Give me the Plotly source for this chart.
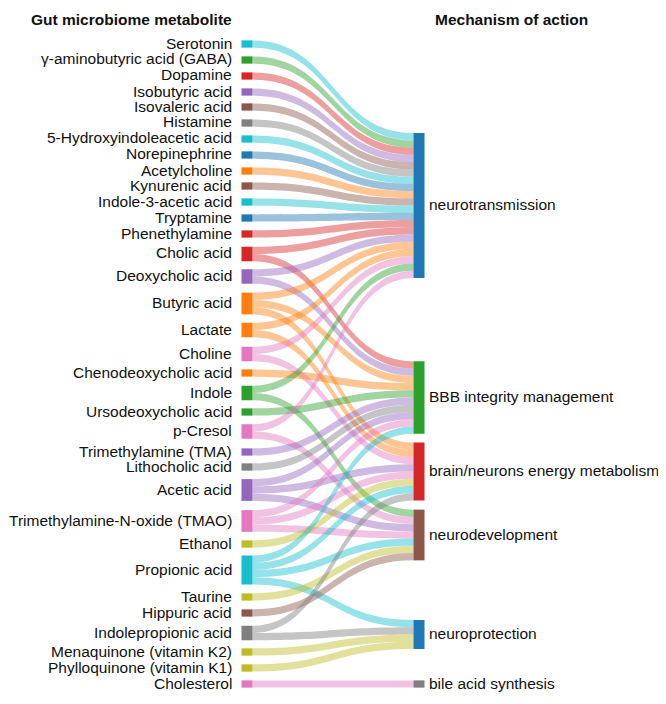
import plotly.graph_objects as go

# ---------------- data ----------------
metabolites = [
    "Serotonin", "γ-aminobutyric acid (GABA)", "Dopamine", "Isobutyric acid",
    "Isovaleric acid", "Histamine", "5-Hydroxyindoleacetic acid", "Norepinephrine",
    "Acetylcholine", "Kynurenic acid", "Indole-3-acetic acid", "Tryptamine",
    "Phenethylamine", "Cholic acid", "Deoxycholic acid", "Butyric acid", "Lactate",
    "Choline", "Chenodeoxycholic acid", "Indole", "Ursodeoxycholic acid", "p-Cresol",
    "Trimethylamine (TMA)", "Lithocholic acid", "Acetic acid",
    "Trimethylamine-N-oxide (TMAO)", "Ethanol", "Propionic acid", "Taurine",
    "Hippuric acid", "Indolepropionic acid", "Menaquinone (vitamin K2)",
    "Phylloquinone (vitamin K1)", "Cholesterol",
]
mechanisms = [
    "neurotransmission", "BBB integrity management", "brain/neurons energy metabolism",
    "neurodevelopment", "neuroprotection", "bile acid synthesis",
]

link_from = [
    "Serotonin", "γ-aminobutyric acid (GABA)", "Dopamine", "Isobutyric acid",
    "Isovaleric acid", "Histamine", "5-Hydroxyindoleacetic acid", "Norepinephrine",
    "Acetylcholine", "Kynurenic acid", "Indole-3-acetic acid", "Tryptamine",
    "Phenethylamine",
    "Cholic acid", "Cholic acid",
    "Deoxycholic acid", "Deoxycholic acid",
    "Butyric acid", "Butyric acid", "Butyric acid",
    "Lactate", "Lactate",
    "Choline", "Choline",
    "Chenodeoxycholic acid",
    "Indole", "Indole",
    "Ursodeoxycholic acid",
    "p-Cresol", "p-Cresol",
    "Trimethylamine (TMA)",
    "Lithocholic acid",
    "Acetic acid", "Acetic acid", "Acetic acid",
    "Trimethylamine-N-oxide (TMAO)", "Trimethylamine-N-oxide (TMAO)", "Trimethylamine-N-oxide (TMAO)",
    "Ethanol",
    "Propionic acid", "Propionic acid", "Propionic acid", "Propionic acid",
    "Taurine",
    "Hippuric acid",
    "Indolepropionic acid", "Indolepropionic acid",
    "Menaquinone (vitamin K2)",
    "Phylloquinone (vitamin K1)",
    "Cholesterol",
]
link_to = [
    "neurotransmission", "neurotransmission", "neurotransmission", "neurotransmission",
    "neurotransmission", "neurotransmission", "neurotransmission", "neurotransmission",
    "neurotransmission", "neurotransmission", "neurotransmission", "neurotransmission",
    "neurotransmission",
    "neurotransmission", "BBB integrity management",
    "neurotransmission", "BBB integrity management",
    "neurotransmission", "BBB integrity management", "brain/neurons energy metabolism",
    "neurotransmission", "brain/neurons energy metabolism",
    "neurotransmission", "brain/neurons energy metabolism",
    "BBB integrity management",
    "neurotransmission", "neurodevelopment",
    "BBB integrity management",
    "neurotransmission", "neurodevelopment",
    "BBB integrity management",
    "BBB integrity management",
    "BBB integrity management", "brain/neurons energy metabolism", "neurodevelopment",
    "BBB integrity management", "brain/neurons energy metabolism", "neurodevelopment",
    "brain/neurons energy metabolism",
    "BBB integrity management", "brain/neurons energy metabolism", "neurodevelopment", "neuroprotection",
    "neurodevelopment",
    "neurodevelopment",
    "brain/neurons energy metabolism", "neuroprotection",
    "neuroprotection",
    "neuroprotection",
    "bile acid synthesis",
]
link_value = [
    1, 1, 1, 1, 1, 1, 1, 1, 1, 1, 1, 1, 1,
    1, 1, 1, 1, 1, 1, 1, 1, 1, 1, 1, 1,
    1, 1, 1, 1, 1, 1, 1, 1, 1, 1, 1, 1, 1,
    1, 1, 1, 1, 1, 1, 1, 1, 1, 1, 1, 1,
]

# ---------------- style / layout ----------------
W, H = 666, 704
OFF = 8  # page body margin offset (window px -> figure px)
PAL = {
    "blue": "#1f77b4", "orange": "#ff7f0e", "green": "#2ca02c", "red": "#d62728",
    "purple": "#9467bd", "brown": "#8c564b", "pink": "#e377c2", "gray": "#7f7f7f",
    "olive": "#bcbd22", "cyan": "#17becf",
}
metabolite_colors = [
    "cyan", "green", "red", "purple", "brown", "gray", "cyan", "blue", "orange", "brown",
    "cyan", "blue", "red", "red", "purple", "orange", "orange", "pink", "orange", "green",
    "green", "pink", "purple", "gray", "purple", "pink", "olive", "cyan", "olive", "brown",
    "gray", "olive", "olive", "pink",
]
mechanism_colors = ["blue", "green", "red", "brown", "blue", "gray"]

# node centre positions in window pixels
left_x_px = 247
right_x_px = 419
metabolite_y_px = [44, 60, 76, 92, 107, 123, 139, 155, 171, 186, 202, 218, 234,
                   254, 276.5, 303.5, 330, 354, 373, 393, 412, 431.5, 452, 467, 490,
                   521, 544, 570, 597, 613, 633, 652, 668, 684]
mechanism_y_px = [205.5, 397.5, 471.5, 535, 634.5, 684]

labels = metabolites + mechanisms
idx = {name: i for i, name in enumerate(labels)}
node_colors = [PAL[c] for c in metabolite_colors + mechanism_colors]


def rgba(hexc, a):
    h = hexc.lstrip("#")
    return "rgba(%d,%d,%d,%s)" % (int(h[0:2], 16), int(h[2:4], 16), int(h[4:6], 16), a)


link_colors = [rgba(node_colors[idx[s]], 0.45) for s in link_from]


def fx(px):
    return (px - OFF) / W


def fy(px):
    return (px - OFF) / H


node_x = [fx(left_x_px)] * len(metabolites) + [fx(right_x_px)] * len(mechanisms)
node_y = [fy(y) for y in metabolite_y_px + mechanism_y_px]

fig = go.Figure(go.Sankey(
    arrangement="fixed",
    node=dict(
        label=[""] * len(labels),
        customdata=labels,
        hovertemplate="%{customdata}<extra></extra>",
        x=node_x, y=node_y,
        pad=10.35, thickness=11,
        color=node_colors,
        line=dict(width=0),
    ),
    link=dict(
        source=[idx[s] for s in link_from],
        target=[idx[t] for t in link_to],
        value=link_value,
        color=link_colors,
    ),
))

FONT = "Liberation Sans, Arial, Helvetica, sans-serif"
annotations = []
for name, ypx in zip(metabolites, metabolite_y_px):
    annotations.append(dict(
        x=fx(234), y=1 - fy(ypx), xref="paper", yref="paper", text=name,
        showarrow=False, xanchor="right", yanchor="middle",
        font=dict(family=FONT, size=15.5, color="#111"), yshift=1,
    ))
for name, ypx in zip(mechanisms, mechanism_y_px):
    annotations.append(dict(
        x=fx(427), y=1 - fy(ypx), xref="paper", yref="paper", text=name,
        showarrow=False, xanchor="left", yanchor="middle",
        font=dict(family=FONT, size=15.5, color="#111"), yshift=1,
    ))
annotations.append(dict(
    x=fx(131.7), y=1 - fy(21), xref="paper", yref="paper", text="<b>Gut microbiome metabolite</b>",
    showarrow=False, xanchor="center", yanchor="middle",
    font=dict(family=FONT, size=15.5, color="#111"), yshift=1,
))
annotations.append(dict(
    x=fx(511), y=1 - fy(21), xref="paper", yref="paper", text="<b>Mechanism of action</b>",
    showarrow=False, xanchor="center", yanchor="middle",
    font=dict(family=FONT, size=15.5, color="#111"), yshift=1,
))

fig.update_layout(
    width=W, height=H,
    margin=dict(l=0, r=0, t=0, b=0),
    paper_bgcolor="white", plot_bgcolor="white",
    font=dict(family=FONT, size=15.5, color="#111"),
    annotations=annotations,
    showlegend=False,
)

fig.write_html("out.html")
